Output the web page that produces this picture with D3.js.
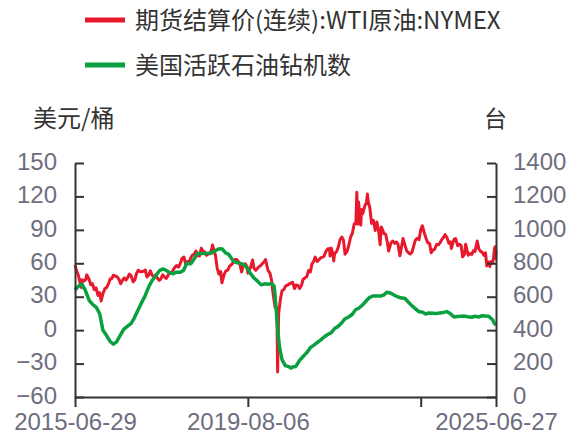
<!DOCTYPE html>
<html>
<head>
<meta charset="utf-8">
<script src="https://cdn.jsdelivr.net/npm/d3@7"></script>
<style>
  body { margin: 0; background: #fff; }
  svg { display: block; font-family: "Noto Sans", "Noto Sans CJK SC", sans-serif; }
</style>
</head>
<body>
<svg id="chart" width="575" height="439"></svg>
<script>
// legend labels and axis titles
const seriesNames = ['期货结算价(连续):WTI原油:NYMEX', '美国活跃石油钻机数'];
const leftUnit = '美元/桶';
const rightUnit = '台';

// axis ticks
const leftTicks = [-60, -30, 0, 30, 60, 90, 120, 150];
const rightTicks = [0, 200, 400, 600, 800, 1000, 1200, 1400];
const xTickDates = ['2015-06-29', '2019-08-06', '2023-09-13', '2025-06-27'];
const xTickShown = ['2015-06-29', '2019-08-06', '', '2025-06-27'];

// WTI settlement price, USD/bbl
const wti = [
  ['2015-06-29',58.3],['2015-07-14',53.0],['2015-07-29',48.8],['2015-08-13',42.2],['2015-08-24',38.2],['2015-08-28',45.2],
  ['2015-09-14',44.0],['2015-09-29',45.1],['2015-10-09',49.6],['2015-10-28',45.9],['2015-11-13',40.7],['2015-11-27',41.7],
  ['2015-12-14',36.3],['2015-12-29',37.9],['2016-01-14',31.2],['2016-01-29',33.6],['2016-02-11',26.2],['2016-02-26',32.8],
  ['2016-03-14',37.2],['2016-03-29',38.3],['2016-04-14',41.5],['2016-04-29',45.9],['2016-05-13',46.2],['2016-05-27',49.3],
  ['2016-06-14',48.5],['2016-06-28',47.9],['2016-07-14',45.7],['2016-07-29',41.6],['2016-08-12',44.5],['2016-08-29',46.9],
  ['2016-09-13',44.9],['2016-09-28',47.1],['2016-10-13',50.4],['2016-10-28',48.7],['2016-11-14',43.3],['2016-11-29',45.2],
  ['2016-12-14',51.0],['2016-12-29',53.8],['2017-01-13',52.4],['2017-01-30',52.6],['2017-02-13',52.9],['2017-02-28',54.0],
  ['2017-03-14',47.7],['2017-03-29',49.5],['2017-04-13',53.2],['2017-04-28',49.3],['2017-05-12',47.8],['2017-05-30',49.7],
  ['2017-06-13',46.5],['2017-06-28',44.7],['2017-07-13',46.1],['2017-07-28',49.7],['2017-08-14',47.6],['2017-08-29',46.4],
  ['2017-09-13',49.3],['2017-09-28',51.6],['2017-10-13',51.5],['2017-10-27',53.9],['2017-11-13',56.8],['2017-11-28',58.0],
  ['2017-12-13',56.6],['2017-12-28',59.8],['2018-01-12',64.3],['2018-01-29',65.6],['2018-02-13',59.2],['2018-02-28',61.6],
  ['2018-03-14',60.9],['2018-03-29',64.9],['2018-04-13',67.4],['2018-04-27',68.1],['2018-05-14',71.0],['2018-05-29',66.7],
  ['2018-06-13',66.6],['2018-06-28',73.5],['2018-07-13',71.0],['2018-07-30',70.1],['2018-08-13',67.2],['2018-08-28',68.5],
  ['2018-09-13',68.6],['2018-09-28',73.3],['2018-10-03',76.4],['2018-10-29',67.0],['2018-11-13',55.7],['2018-11-28',50.3],
  ['2018-12-13',52.6],['2018-12-24',42.5],['2019-01-14',50.5],['2019-01-29',53.3],['2019-02-13',53.9],['2019-02-28',57.2],
  ['2019-03-14',58.6],['2019-03-29',60.1],['2019-04-15',63.4],['2019-04-29',63.5],['2019-05-14',61.8],['2019-05-29',59.0],
  ['2019-06-13',52.3],['2019-06-28',58.5],['2019-07-15',59.6],['2019-07-29',56.9],['2019-08-07',51.1],['2019-08-28',55.8],
  ['2019-09-16',62.9],['2019-09-27',55.9],['2019-10-14',53.6],['2019-10-29',55.5],['2019-11-13',57.1],['2019-11-27',58.1],
  ['2019-12-13',60.1],['2019-12-27',61.7],['2020-01-06',63.3],['2020-01-29',53.3],['2020-02-13',51.4],['2020-02-28',44.8],
  ['2020-03-13',31.7],['2020-03-30',20.1],['2020-04-14',20.1],['2020-04-20',-37.6],['2020-04-29',15.1],['2020-05-14',27.6],
  ['2020-05-29',35.5],['2020-06-12',36.3],['2020-06-29',39.7],['2020-07-14',40.3],['2020-07-29',41.3],['2020-08-13',42.2],
  ['2020-08-28',43.0],['2020-09-14',37.3],['2020-09-28',40.6],['2020-10-13',40.2],['2020-10-28',37.4],['2020-11-13',40.1],
  ['2020-11-27',45.5],['2020-12-14',47.0],['2020-12-29',48.0],['2021-01-14',53.6],['2021-01-29',52.2],['2021-02-12',59.5],
  ['2021-02-26',61.5],['2021-03-12',65.6],['2021-03-29',61.6],['2021-04-14',63.2],['2021-04-29',65.0],['2021-05-14',65.4],
  ['2021-05-28',66.3],['2021-06-14',70.9],['2021-06-29',73.0],['2021-07-14',73.1],['2021-07-19',66.4],['2021-07-29',73.6],
  ['2021-08-13',68.4],['2021-08-20',62.1],['2021-08-27',68.7],['2021-09-14',70.5],['2021-09-29',74.8],['2021-10-14',81.3],
  ['2021-10-29',83.6],['2021-11-12',80.8],['2021-11-26',68.2],['2021-12-14',70.7],['2021-12-29',76.6],['2022-01-14',83.8],
  ['2022-01-28',86.8],['2022-02-14',95.5],['2022-02-28',95.7],['2022-03-08',123.7],['2022-03-16',95.0],['2022-03-23',114.9],
  ['2022-04-11',94.3],['2022-04-18',108.2],['2022-04-29',104.7],['2022-05-13',110.5],['2022-05-31',114.7],['2022-06-08',122.1],
  ['2022-06-15',115.3],['2022-06-29',109.8],['2022-07-14',95.8],['2022-07-29',98.6],['2022-08-15',89.4],['2022-08-29',97.0],
  ['2022-09-14',88.5],['2022-09-26',76.7],['2022-10-07',92.6],['2022-10-31',86.5],['2022-11-14',85.9],['2022-11-29',78.2],
  ['2022-12-09',71.0],['2022-12-29',78.4],['2023-01-13',79.9],['2023-01-30',77.9],['2023-02-14',79.1],['2023-02-28',77.1],
  ['2023-03-17',66.7],['2023-03-30',74.4],['2023-04-13',82.2],['2023-04-28',76.8],['2023-05-15',71.1],['2023-05-30',69.5],
  ['2023-06-14',68.3],['2023-06-29',69.9],['2023-07-14',75.4],['2023-07-28',80.6],['2023-08-14',82.5],['2023-08-29',81.2],
  ['2023-09-14',90.2],['2023-09-27',93.7],['2023-10-13',87.7],['2023-10-30',82.3],['2023-11-14',78.3],['2023-11-29',77.9],
  ['2023-12-13',69.5],['2023-12-28',71.8],['2024-01-12',72.7],['2024-01-29',76.8],['2024-02-14',76.6],['2024-02-28',78.5],
  ['2024-03-14',81.3],['2024-03-28',83.2],['2024-04-12',85.7],['2024-04-29',82.6],['2024-05-14',78.0],['2024-05-29',79.2],
  ['2024-06-04',73.3],['2024-06-28',81.5],['2024-07-12',82.2],['2024-07-29',75.8],['2024-08-14',77.0],['2024-08-29',75.9],
  ['2024-09-10',65.8],['2024-09-27',68.2],['2024-10-07',77.1],['2024-10-29',67.2],['2024-11-14',68.7],['2024-11-29',68.0],
  ['2024-12-13',71.3],['2024-12-27',70.6],['2025-01-15',80.0],['2025-01-30',72.7],['2025-02-14',70.7],['2025-02-28',69.8],
  ['2025-03-14',67.2],['2025-03-28',69.4],['2025-04-08',57.6],['2025-04-15',61.3],['2025-04-29',60.4],['2025-05-05',57.1],
  ['2025-05-15',61.6],['2025-05-29',60.9],['2025-06-06',64.6],['2025-06-13',73.0],['2025-06-20',74.9],['2025-06-24',64.4],
  ['2025-06-27',72.0]
];

// US active oil rig count
const rigs = [
  ['2015-06-29',640],['2015-07-31',664],['2015-08-28',675],['2015-09-25',641],['2015-10-30',578],['2015-11-27',555],
  ['2015-12-31',536],['2016-01-29',498],['2016-02-26',400],['2016-03-25',372],['2016-04-29',332],['2016-05-27',316],
  ['2016-06-24',330],['2016-07-29',374],['2016-08-26',406],['2016-09-30',425],['2016-10-28',441],['2016-11-25',474],
  ['2016-12-30',525],['2017-01-27',566],['2017-02-24',602],['2017-03-31',662],['2017-04-28',697],['2017-05-26',722],
  ['2017-06-30',756],['2017-07-28',766],['2017-08-25',759],['2017-09-29',744],['2017-10-27',737],['2017-11-24',747],
  ['2017-12-29',747],['2018-01-26',759],['2018-02-23',800],['2018-03-29',797],['2018-04-27',825],['2018-05-25',859],
  ['2018-06-29',858],['2018-07-27',858],['2018-08-31',860],['2018-09-28',863],['2018-10-26',875],['2018-11-30',887],
  ['2018-12-28',885],['2019-01-25',862],['2019-02-22',853],['2019-03-29',816],['2019-04-26',805],['2019-05-31',800],
  ['2019-06-28',793],['2019-07-26',776],['2019-08-30',738],['2019-09-27',713],['2019-10-25',696],['2019-11-29',671],
  ['2019-12-27',677],['2020-01-31',675],['2020-02-28',679],['2020-03-20',664],['2020-03-27',624],['2020-04-10',504],
  ['2020-04-24',378],['2020-05-08',292],['2020-05-29',222],['2020-06-26',188],['2020-07-31',180],['2020-08-14',172],
  ['2020-08-28',180],['2020-09-25',183],['2020-10-30',221],['2020-11-25',241],['2020-12-31',267],['2021-01-29',295],
  ['2021-02-26',309],['2021-03-26',324],['2021-04-30',342],['2021-05-28',359],['2021-06-25',372],['2021-07-30',385],
  ['2021-08-27',410],['2021-09-24',421],['2021-10-29',444],['2021-11-24',467],['2021-12-30',480],['2022-01-28',495],
  ['2022-02-25',522],['2022-03-25',531],['2022-04-29',552],['2022-05-27',574],['2022-06-24',594],['2022-07-29',605],
  ['2022-08-26',605],['2022-09-30',604],['2022-10-28',610],['2022-11-23',627],['2022-12-30',621],['2023-01-27',609],
  ['2023-02-24',600],['2023-03-31',592],['2023-04-28',591],['2023-05-26',570],['2023-06-30',545],['2023-07-28',529],
  ['2023-08-25',512],['2023-09-29',507],['2023-10-27',496],['2023-11-22',503],['2023-12-29',501],['2024-01-26',499],
  ['2024-02-23',503],['2024-03-28',506],['2024-04-26',511],['2024-05-31',496],['2024-06-28',479],['2024-07-26',482],
  ['2024-08-30',483],['2024-09-27',484],['2024-10-25',480],['2024-11-27',477],['2024-12-27',483],['2025-01-31',479],
  ['2025-02-28',486],['2025-03-28',484],['2025-04-25',483],['2025-05-30',461],['2025-06-13',439],['2025-06-27',432]
];

const colors = ['#e8192c', '#0aa040'];
const parse = d3.timeParse('%Y-%m-%d');

let svg = d3.select('#chart');
const padLeft = 75, padRight = 496, padTop = 163, padBottom = 397;

const x = d3.scaleTime()
  .domain([parse('2015-06-29'), parse('2025-06-27')])
  .range([padLeft, padRight]);
const yL = d3.scaleLinear().domain([-60, 150]).range([padBottom, padTop]);
const yR = d3.scaleLinear().domain([0, 1400]).range([padBottom, padTop]);

// legend
seriesNames.forEach((name, i) => {
  const g = svg.append('g').attr('transform', 'translate(85,' + (20 + i * 45) + ')');
  g.append('line')
    .attr('x1', 0).attr('x2', 40)
    .attr('stroke', colors[i]).attr('stroke-width', 5);
  g.append('text')
    .attr('x', 50).attr('dy', '0.36em')
    .attr('fill', '#333')
    .style('font-size', '24px')
    .style('font-family', '"Noto Sans CJK SC", sans-serif')
    .text(name);
});

// unit labels
svg.append('text')
  .attr('x', 33).attr('y', 127)
  .attr('fill', '#333')
  .style('font-size', '24px')
  .style('font-family', '"Noto Sans CJK SC", sans-serif')
  .text(leftUnit);
svg.append('text')
  .attr('x', 484).attr('y', 127)
  .attr('fill', '#333')
  .style('font-size', '23px')
  .style('font-family', '"Noto Sans CJK SC", sans-serif')
  .text(rightUnit);

function styleAxis(g) {
  g.select('.domain').attr('stroke', '#333').attr('stroke-width', 2);
  g.selectAll('.tick line').attr('stroke', '#333').attr('stroke-width', 2);
  g.selectAll('.tick text').attr('fill', '#6e6e7e').style('font-size', '24px');
}

// lines
const lineL = d3.line().x(d => x(parse(d[0]))).y(d => yL(d[1]));
const lineR = d3.line().x(d => x(parse(d[0]))).y(d => yR(d[1]));

svg.append('path')
  .datum(wti)
  .attr('d', lineL)
  .attr('fill', 'none')
  .attr('stroke', colors[0])
  .attr('stroke-width', 3)
  .attr('stroke-linejoin', 'round');

svg.append('path')
  .datum(rigs)
  .attr('d', lineR)
  .attr('fill', 'none')
  .attr('stroke', colors[1])
  .attr('stroke-width', 3.5)
  .attr('stroke-linejoin', 'round');

// axes
const gL = svg.append('g')
  .attr('transform', 'translate(' + padLeft + ',0)')
  .call(d3.axisLeft(yL).tickValues(leftTicks).tickSize(-9).tickPadding(18).tickSizeOuter(0))
  .call(styleAxis);
gL.selectAll('.tick text').attr('dy', '0.26em');

const gR = svg.append('g')
  .attr('transform', 'translate(' + padRight + ',0)')
  .call(d3.axisRight(yR).tickValues(rightTicks).tickFormat(d3.format('d'))
    .tickSize(-9).tickPadding(17).tickSizeOuter(0))
  .call(styleAxis);
gR.selectAll('.tick text').attr('dy', '0.26em');

svg.append('g')
  .attr('transform', 'translate(0,' + padBottom + ')')
  .call(d3.axisBottom(x)
    .tickValues(xTickDates.map(parse))
    .tickFormat((d, i) => xTickShown[i])
    .tickSize(10).tickPadding(6).tickSizeOuter(0))
  .call(styleAxis);
</script>
</body>
</html>
